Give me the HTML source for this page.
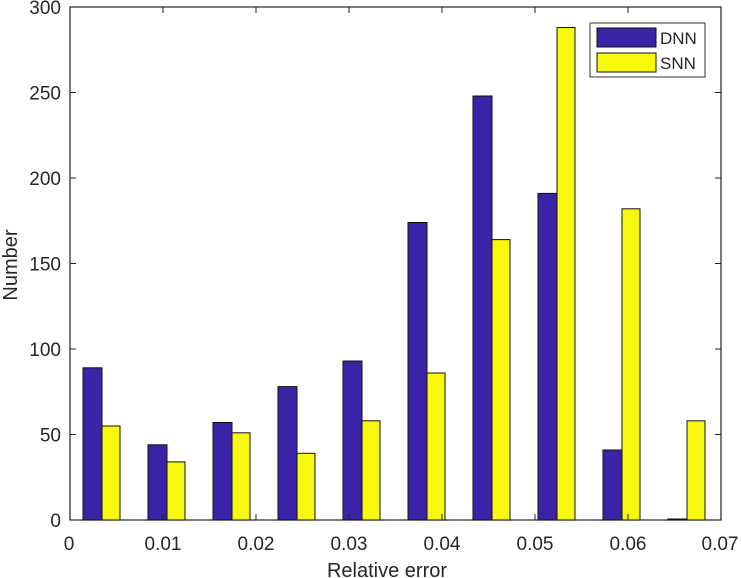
<!DOCTYPE html>
<html><head><style>body{margin:0;background:#fff}svg{display:block}text{font-family:"Liberation Sans",Arial,sans-serif;fill:#262626}</style></head>
<body>
<svg width="741" height="578" xmlns="http://www.w3.org/2000/svg">
<g stroke="#222" stroke-width="1.2">
<rect x="70" y="7" width="651" height="513" fill="#fff"/>
</g>
<g fill="#3a23a6" stroke="#111" stroke-width="1">
<rect x="83" y="367.8" width="19" height="152.2"/>
<rect x="148" y="444.8" width="19" height="75.2"/>
<rect x="213" y="422.5" width="19" height="97.5"/>
<rect x="278" y="386.6" width="19" height="133.4"/>
<rect x="343" y="361" width="19" height="159"/>
<rect x="408" y="222.5" width="19" height="297.5"/>
<rect x="473" y="96" width="19" height="424"/>
<rect x="538" y="193.4" width="19" height="326.6"/>
<rect x="603" y="450" width="19" height="70"/>
<rect x="668" y="519" width="19" height="1"/>
</g>
<g fill="#f8f80e" stroke="#111" stroke-width="1">
<rect x="102" y="426" width="18" height="94"/>
<rect x="167" y="461.9" width="18" height="58.1"/>
<rect x="232" y="432.8" width="18" height="87.2"/>
<rect x="297" y="453.3" width="18" height="66.7"/>
<rect x="362" y="420.8" width="18" height="99.2"/>
<rect x="427" y="373" width="18" height="147"/>
<rect x="492" y="239.6" width="18" height="280.4"/>
<rect x="557" y="27.5" width="18" height="492.5"/>
<rect x="622" y="208.8" width="18" height="311.2"/>
<rect x="687" y="420.8" width="18" height="99.2"/>
</g>
<g stroke="#222" stroke-width="1">
<path d="M70,434.5h6M70,349h6M70,263.5h6M70,178h6M70,92.5h6M721,434.5h-6M721,349h-6M721,263.5h-6M721,178h-6M721,92.5h-6"/>
<path d="M163,520v-6M256,520v-6M349,520v-6M442,520v-6M535,520v-6M628,520v-6M163,7v6M256,7v6M349,7v6M442,7v6M535,7v6M628,7v6"/>
</g>
<g font-size="19" text-anchor="end">
<text x="61" y="527">0</text><text x="61" y="441.5">50</text><text x="61" y="356">100</text><text x="61" y="270.5">150</text><text x="61" y="185">200</text><text x="61" y="99.5">250</text><text x="61" y="14">300</text>
</g>
<g font-size="19" text-anchor="middle">
<text x="69" y="550">0</text><text x="163" y="550">0.01</text><text x="256" y="550">0.02</text><text x="349" y="550">0.03</text><text x="442" y="550">0.04</text><text x="535" y="550">0.05</text><text x="628" y="550">0.06</text><text x="720" y="550">0.07</text>
</g>
<g font-size="20" text-anchor="middle">
<text x="387" y="577">Relative error</text>
<text transform="translate(17,265) rotate(-90)">Number</text>
</g>
<rect x="590" y="23" width="115" height="54" fill="#fff" stroke="#333" stroke-width="1"/>
<rect x="597" y="28" width="59" height="19" fill="#3a23a6" stroke="#111"/>
<rect x="597" y="53" width="59" height="19" fill="#f8f80e" stroke="#111"/>
<text x="660" y="44" font-size="17">DNN</text>
<text x="660" y="69" font-size="17">SNN</text>
</svg>
</body></html>
